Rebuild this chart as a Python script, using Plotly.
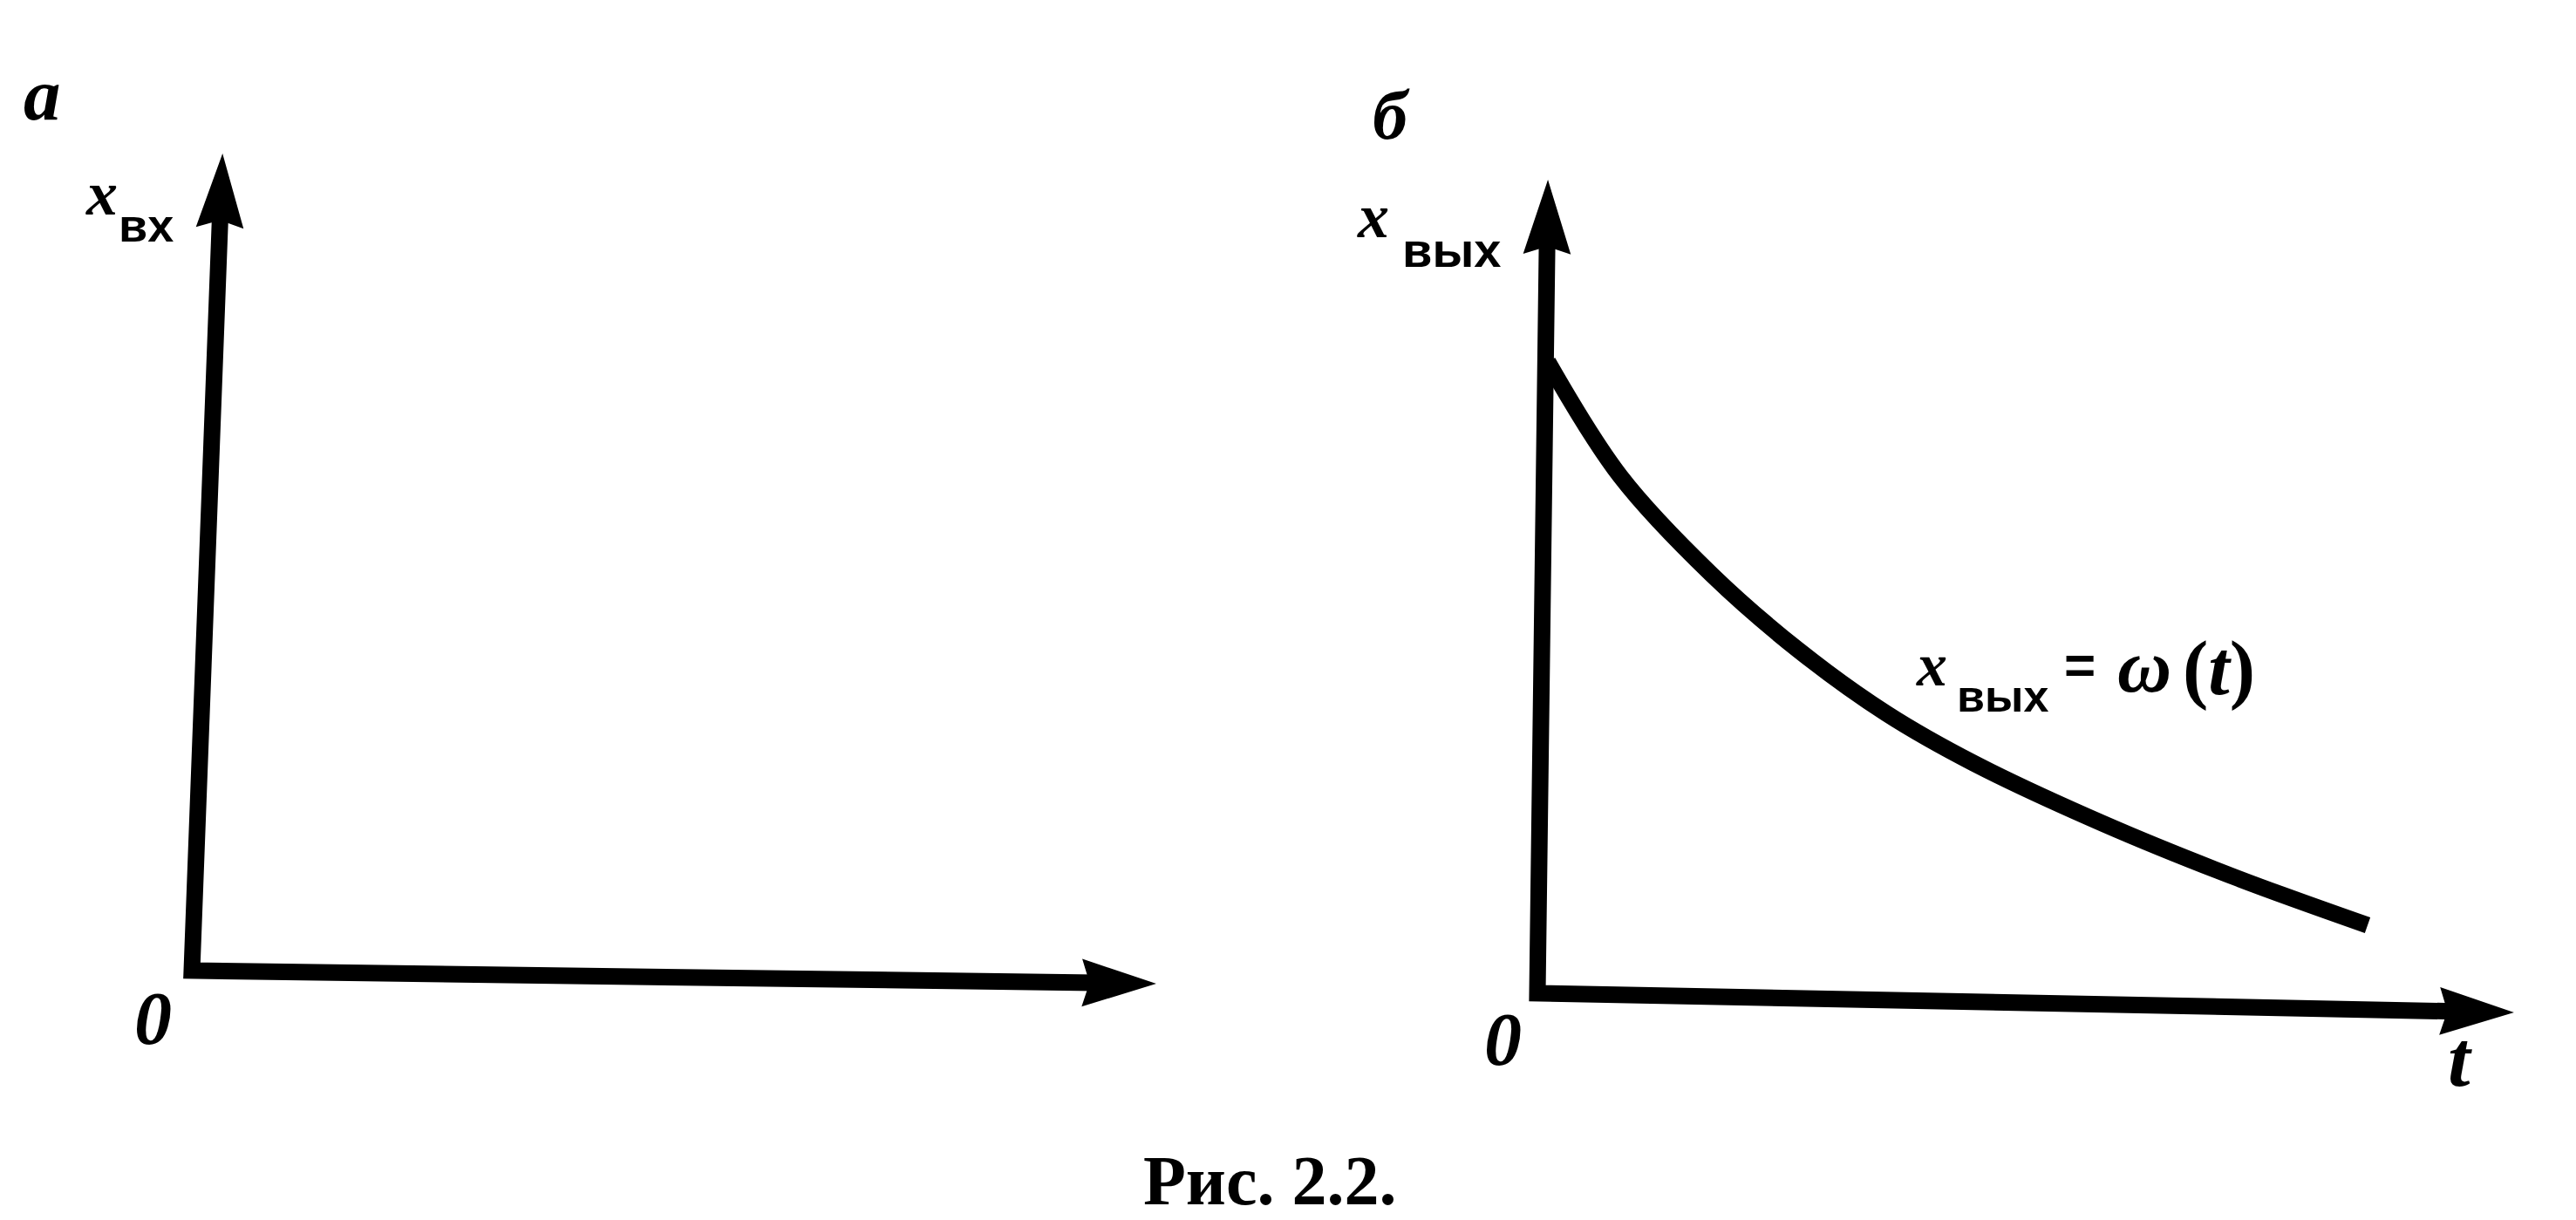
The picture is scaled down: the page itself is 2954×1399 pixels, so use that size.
import numpy as np
import plotly.graph_objects as go

W, H = 2954, 1399

# ---- data (panel units; 1 unit ~ 100 px in the original drawing) ----
# Panel "а": input signal axes (hand-drawn, slightly tilted)
a_origin = [0.0, 0.0]
a_xaxis_end = [11.01, -0.15]
a_yaxis_end = [0.35, 9.32]

# Panel "б": output signal axes
b_origin = [0.0, 0.0]
b_xaxis_end = [11.15, -0.22]
b_yaxis_end = [0.12, 9.28]

# Output curve x_вых = w(t)
t_out = [0.12, 0.95, 2.0, 3.0, 4.0, 5.0, 6.5, 8.0, 9.52]
x_out = [7.24, 5.93, 4.80, 3.93, 3.21, 2.64, 1.94, 1.33, 0.78]

# ---- styling ----
INK = "#000000"
LW = 19
HEAD_L, HEAD_W, NOTCH = 0.78, 0.50, 0.08


def arrow_parts(origin, end):
    o = np.array(origin, float)
    e = np.array(end, float)
    d = (e - o) / np.linalg.norm(e - o)
    n = np.array([-d[1], d[0]])
    base = e - HEAD_L * d
    notch = base + NOTCH * d
    b1 = base + HEAD_W / 2 * n
    b2 = base - HEAD_W / 2 * n
    pts = [e, b1, notch, b2]
    path = "M " + " L ".join(f"{p[0]:.4f},{p[1]:.4f}" for p in pts) + " Z"
    return notch + 0.05 * d, path


fig = go.Figure()


def add_axes(origin, xend, yend, xa, ya):
    ytail, ypath = arrow_parts(origin, yend)
    xtail, xpath = arrow_parts(origin, xend)
    fig.add_trace(go.Scatter(
        x=[ytail[0], origin[0], xtail[0]], y=[ytail[1], origin[1], xtail[1]],
        mode="lines", line=dict(color=INK, width=LW, shape="linear"),
        xaxis=xa, yaxis=ya, hoverinfo="skip", showlegend=False))
    for path in (ypath, xpath):
        fig.add_shape(type="path", path=path, xref=xa, yref=ya,
                      fillcolor=INK, line=dict(color=INK, width=3), layer="above")


add_axes(a_origin, a_xaxis_end, a_yaxis_end, "x", "y")
add_axes(b_origin, b_xaxis_end, b_yaxis_end, "x2", "y2")

fig.add_trace(go.Scatter(
    x=t_out, y=x_out, mode="lines", line=dict(color=INK, width=LW, shape="spline", smoothing=1.0),
    xaxis="x2", yaxis="y2", hoverinfo="skip", showlegend=False))


def px(x):
    return x / W


def py(y):
    return 1 - y / H


SERIF = "Liberation Serif"
SANS = "Liberation Sans"


def label(x, y, text, size, family=SERIF, italic=True, bold=True):
    t = text
    if bold:
        t = "<b>" + t + "</b>"
    if italic:
        t = "<i>" + t + "</i>"
    fig.add_annotation(x=px(x), y=py(y), xref="paper", yref="paper", text=t,
                       showarrow=False, xanchor="center", yanchor="middle",
                       font=dict(family=family, size=size, color=INK))


# panel letters
label(40, 100, "а", 85)
label(1587, 124, "б", 80)
# axis names
label(108, 214, "x", 72)
label(159, 250, "вх", 54, family=SANS, italic=False)
label(1566, 240, "x", 72)
label(1657, 278, "вых", 56, family=SANS, italic=False)
# curve label
label(2207, 754, "x", 70)
label(2288, 790, "вых", 52, family=SANS, italic=False)
label(2377, 755, "=", 62, family=SANS, italic=False)
label(2451, 756, "ω", 86)
label(2536, 758, "(<i>t</i>)", 88, italic=False)
# origins and time axis
label(167, 1160, "0", 86)
label(1716, 1184, "0", 86)
label(2813, 1206, "t", 92)
# caption
label(1448, 1346, "Рис. 2.2.", 80, family=SERIF, italic=False, bold=True)

axis_common = dict(visible=False, showgrid=False, zeroline=False, domain=[0, 1], fixedrange=True)
fig.update_layout(
    width=W, height=H,
    margin=dict(l=0, r=0, t=0, b=0),
    paper_bgcolor="white", plot_bgcolor="white",
    showlegend=False,
    xaxis=dict(range=[-2.12, 27.42], **axis_common),
    yaxis=dict(range=[-2.94, 11.05], **axis_common),
    xaxis2=dict(range=[-17.55, 11.99], overlaying="x", **axis_common),
    yaxis2=dict(range=[-2.68, 11.31], overlaying="y", **axis_common),
)

fig.write_html("out.html")
